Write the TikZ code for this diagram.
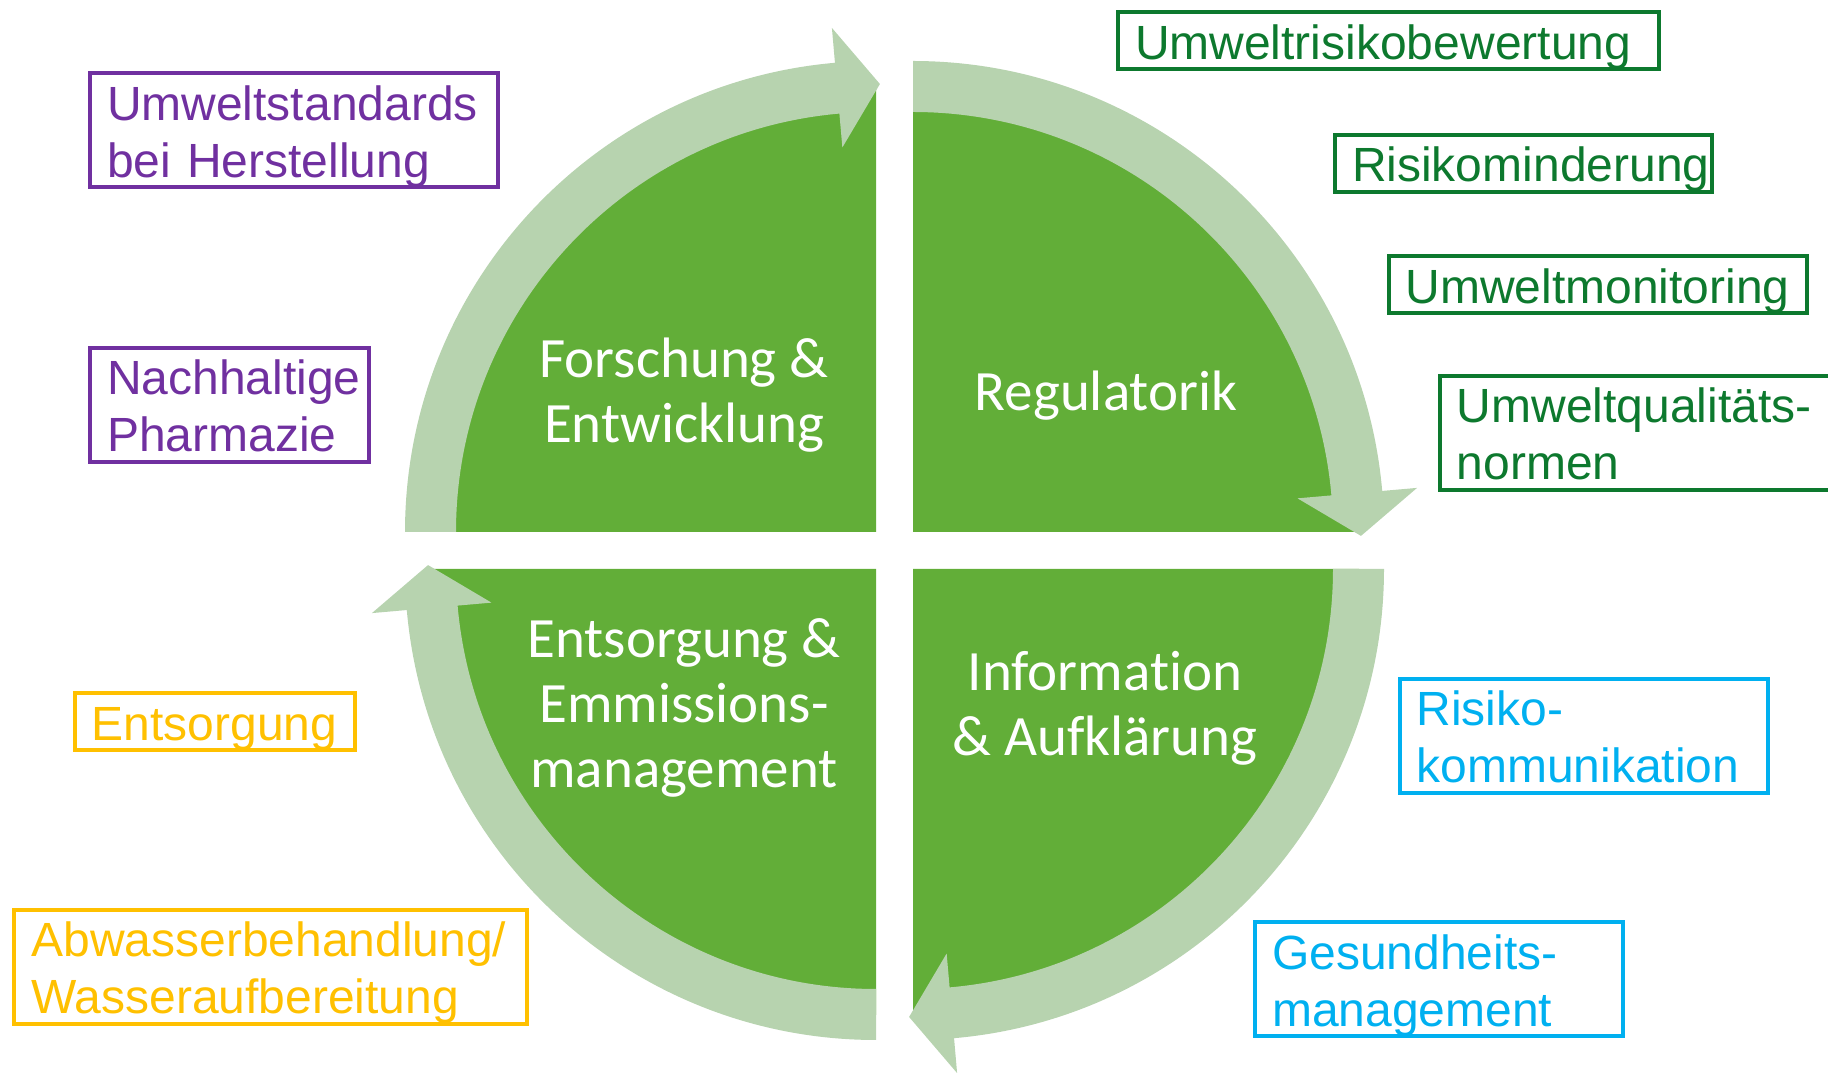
\documentclass[tikz,border=0pt]{standalone}
\usepackage{fontspec}
\setmainfont{Liberation Sans}
\newfontfamily\quadfont{Carlito}[Ligatures=NoCommon]

\hyphenpenalty=10000
\exhyphenpenalty=10000

\definecolor{quadgreen}{RGB}{98,174,56}
\definecolor{ringgreen}{RGB}{183,211,175}
\definecolor{tagpurple}{RGB}{112,48,160}
\definecolor{tagorange}{RGB}{255,192,0}
\definecolor{tagdkgreen}{RGB}{13,121,46}
\definecolor{tagcyan}{RGB}{0,176,240}

\begin{document}
\begin{tikzpicture}[
    x=1pt, y=1pt,
    quad/.style={fill=quadgreen},
    ring/.style={fill=ringgreen},
    quadtext/.style={font=\quadfont\fontsize{57pt}{65pt}\selectfont, text=white, align=center, anchor=base},
    tag/.style={draw, line width=4pt, anchor=north west, align=left, inner xsep=17pt, inner ysep=0pt,
        text height=47pt, text depth=10pt, font=\fontsize{48pt}{57pt}\selectfont},
    tagtwo/.style={tag, text depth=67pt},
]
\useasboundingbox (0,0) rectangle (1828,1073);

% ====== Quadrant corners ======
\coordinate (cTL) at (876,541);
\coordinate (cTR) at (913,541);
\coordinate (cBL) at (876,504);
\coordinate (cBR) at (913,504);

% ====== Green quarter discs ======
\foreach \c/\a in {cTL/90, cTR/0, cBR/270, cBL/180}
  \fill[quad] (\c) -- ++(\a:446) arc[start angle=\a, end angle=\a+90, radius=446] -- cycle;

% ====== Cycle arrows (clockwise) ======
\foreach \c/\a in {cTL/180, cTR/90, cBR/0, cBL/270}
  \fill[ring, shift={(\c)}] (\a:471) arc[start angle=\a, end angle=\a-85, radius=471]
    -- (\a-85:506) -- (\a-90.5:448) -- (\a-85:386) -- (\a-85:420)
    arc[start angle=\a-85, end angle=\a, radius=420] -- cycle;

% ====== Quadrant labels (placed at last baseline) ======
\node[quadtext] (rd) at (684,630) {Forschung \&\\Entwicklung};
\node[quadtext] (reg) at (1106,662) {Regulatorik};
\node[quadtext] (info) at (1105,317) {Information\\\& Aufklärung};
\node[quadtext] (waste) at (684,285) {Entsorgung \&\\Emmissions-\\management};

% ====== Production (purple) ======
\node[tagtwo, tagpurple, text width=374pt] (stdProd) at (88,1001.7) {Umweltstandards\\bei Herstellung};
\node[tagtwo, tagpurple, text width=245pt] (sustPharm) at (88,727) {Nachhaltige\\Pharmazie};

% ====== Disposal (orange) ======
\node[tag, tagorange, text width=246.8pt] (disp) at (72.6,381.7) {Entsorgung};
\node[tagtwo, tagorange, text width=478.6pt] (water) at (12.3,165) {Abwasserbehandlung/\\Wasseraufbereitung};

% ====== Regulation (dark green) ======
\node[tag, tagdkgreen, text width=506.5pt] (era) at (1116,1062.7) {Umweltrisikobewertung};
\node[tag, tagdkgreen, text width=343pt] (riskRed) at (1333,940.3) {Risikominderung};
\node[tag, tagdkgreen, text width=384pt] (monit) at (1386.6,818.7) {Umweltmonitoring};
\node[tagtwo, tagdkgreen, text width=356pt] (eqs) at (1437.7,699.3) {Umweltqualitäts-\\normen};

% ====== Information (cyan) ======
\node[tagtwo, tagcyan, text width=334.4pt] (riskCom) at (1397.6,396) {Risiko-\\kommunikation};
\node[tagtwo, tagcyan, text width=333.5pt] (health) at (1253,152.7) {Gesundheits-\\management};

\end{tikzpicture}
\end{document}
